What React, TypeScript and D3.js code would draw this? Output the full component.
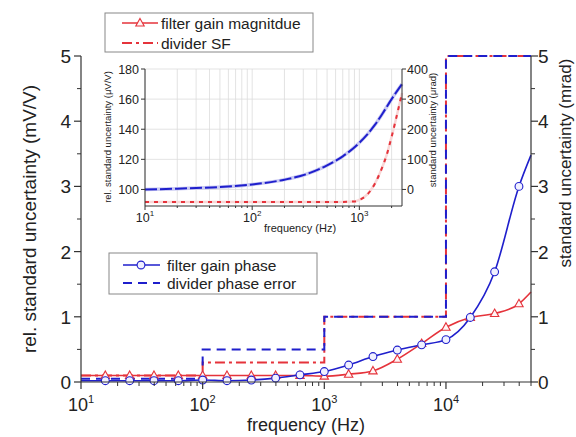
import React from 'react';
import * as d3 from 'd3';

// ---------- data ----------
const freqMain = [10, 15.85, 25.12, 39.81, 63.1, 100, 158.5, 251.2, 398.1, 631, 1000, 1585, 2512, 3981, 6310, 10000, 15849, 25119, 39811, 50000];
const gainMagnitude = [0.1, 0.1, 0.1, 0.1, 0.1, 0.1, 0.1, 0.1, 0.1, 0.1, 0.09, 0.12, 0.17, 0.35, 0.59, 0.84, 0.99, 1.05, 1.2, 1.38];
const gainPhase = [0.02, 0.02, 0.02, 0.02, 0.02, 0.03, 0.02, 0.03, 0.06, 0.11, 0.16, 0.26, 0.39, 0.49, 0.57, 0.65, 0.99, 1.69, 3.0, 3.48];
const stepFreq = [10, 100, 1000, 10000, 50000];
const dividerSF = [0.1, 0.3, 1, 5, 5];
const dividerPhase = [0.05, 0.5, 1, 5, 5];

const insetFreqBlue = [10, 20, 30, 50, 100, 200, 316, 500, 700, 1000, 1400, 1700, 2000, 2500];
const insetBlue = [100, 100.5, 101, 101.6, 103.3, 106.5, 110, 116, 122, 131, 143, 152, 160, 170];
const insetFreqRed = [10, 100, 500, 900, 1000, 1200, 1400, 1600, 1800, 2000, 2200, 2500];
const insetRed = [-42, -42, -42, -40, -35, -15, 20, 65, 115, 175, 235, 320];

const yTicks = [0, 1, 2, 3, 4, 5];
const xDecades = [1, 2, 3, 4];
const insetLeftTicks = [100, 120, 140, 160, 180];
const insetRightTicks = [0, 100, 200, 300, 400];
const insetDecades = [1, 2, 3];

const RED = '#e5333b';
const BLUE = '#1f1fcc';
const FONT = 'Liberation Sans, Arial, sans-serif';

export default function App() {
  // main scales
  const x = d3.scaleLog().domain([10, 50000]).range([81, 531]);
  const y = d3.scaleLinear().domain([0, 5]).range([382, 56]);
  const yR = d3.scaleLinear().domain([0, 5]).range([382, 56]);

  // inset scales
  const xi = d3.scaleLog().domain([10, 2500]).range([145, 402]);
  const yiL = d3.scaleLinear().domain([89, 180]).range([206, 69]);
  const yiR = d3.scaleLinear().domain([-55, 400]).range([206, 69]);

  const smooth = d3.line<[number, number]>().curve(d3.curveMonotoneX);
  const stepLine = d3.line<[number, number]>().curve(d3.curveStepAfter);

  const magPts = freqMain.map((f, i) => [x(f), y(gainMagnitude[i])] as [number, number]);
  const phPts = freqMain.map((f, i) => [x(f), yR(gainPhase[i])] as [number, number]);
  const sfPts = stepFreq.map((f, i) => [x(f), y(dividerSF[i])] as [number, number]);
  const dpPts = stepFreq.map((f, i) => [x(f), yR(dividerPhase[i])] as [number, number]);

  const insetBluePts = insetFreqBlue.map((f, i) => [xi(f), yiL(insetBlue[i])] as [number, number]);
  const insetRedPts = insetFreqRed.map((f, i) => [xi(f), yiR(insetRed[i])] as [number, number]);

  const isMinor = (t: number) => {
    const l = Math.log10(t);
    return Math.abs(l - Math.round(l)) > 1e-6;
  };
  const minorX = x.ticks().filter(isMinor);
  const minorXi = xi.ticks().filter(isMinor);
  const minorY = d3.range(0.5, 5, 1);

  const tri = (cx: number, cy: number, key: string | number) => (
    <path key={key} d={`M${cx},${cy - 4.5} L${cx + 4.2},${cy + 3} L${cx - 4.2},${cy + 3} Z`} fill="#fff5f5" stroke={RED} strokeWidth={1.1} />
  );
  const circ = (cx: number, cy: number, key: string | number) => (
    <circle key={key} cx={cx} cy={cy} r={3.9} fill="#f0f0ff" stroke={BLUE} strokeWidth={1.1} />
  );

  return (
    <svg width={576} height={437} style={{ position: 'absolute', left: 0, top: 0, background: '#fff' }} fontFamily={FONT}>
      <rect x={0} y={0} width={576} height={437} fill="#fff" />

      {/* ---------- inset ---------- */}
      <g>
        {xi.ticks().map((t, i) => (
          <line key={'ig' + i} x1={xi(t)} x2={xi(t)} y1={69} y2={206} stroke="#dcdcdc" strokeWidth={0.8} />
        ))}
        {insetLeftTicks.map((t) => (
          <line key={'ih' + t} x1={145} x2={402} y1={yiL(t)} y2={yiL(t)} stroke="#dcdcdc" strokeWidth={0.8} />
        ))}
        <path d={smooth(insetRedPts) || ''} fill="none" stroke="#f8d6d6" strokeWidth={2.5} />
        <path d={smooth(insetRedPts) || ''} fill="none" stroke={RED} strokeWidth={2} strokeDasharray="4,5" />
        <path d={smooth(insetBluePts) || ''} fill="none" stroke="#c9c9f2" strokeWidth={3.5} />
        <path d={smooth(insetBluePts) || ''} fill="none" stroke={BLUE} strokeWidth={2} strokeDasharray="12,3" />
        <line x1={145} x2={145} y1={69} y2={206} stroke="#333" strokeWidth={1} />
        <line x1={402} x2={402} y1={69} y2={206} stroke="#333" strokeWidth={1} />
        <line x1={145} x2={402} y1={206} y2={206} stroke="#333" strokeWidth={1} />
        {insetLeftTicks.map((t) => (
          <g key={'il' + t}>
            <line x1={141} x2={145} y1={yiL(t)} y2={yiL(t)} stroke="#333" />
            <text x={139} y={yiL(t) + 4.5} fontSize={12.5} textAnchor="end" fill="#222">{t}</text>
          </g>
        ))}
        {insetRightTicks.map((t) => (
          <g key={'ir' + t}>
            <line x1={402} x2={406} y1={yiR(t)} y2={yiR(t)} stroke="#333" />
            <text x={407} y={yiR(t) + 4.5} fontSize={12.5} textAnchor="start" fill="#222">{t}</text>
          </g>
        ))}
        {insetDecades.map((d) => (
          <g key={'id' + d}>
            <line x1={xi(10 ** d)} x2={xi(10 ** d)} y1={206} y2={210} stroke="#333" />
            <text x={xi(10 ** d)} y={222} fontSize={12.5} textAnchor="middle" fill="#222">
              10<tspan dy={-6} fontSize={8}>{d}</tspan>
            </text>
          </g>
        ))}
        {minorXi.map((t, i) => (
          <line key={'imx' + i} x1={xi(t)} x2={xi(t)} y1={206} y2={208} stroke="#333" />
        ))}
        <text x={300} y={232} fontSize={11} textAnchor="middle" fill="#222">frequency (Hz)</text>
        <text transform={`translate(111,137) rotate(-90)`} fontSize={9.5} textAnchor="middle" fill="#222">rel. standard uncertainty (μV/V)</text>
        <text transform={`translate(436,130) rotate(-90)`} fontSize={9.5} textAnchor="middle" fill="#222">standard uncertainty (μrad)</text>
      </g>

      {/* ---------- main series ---------- */}
      <path d={stepLine(sfPts) || ''} fill="none" stroke={RED} strokeWidth={2} strokeDasharray="10,4,3,4" />
      <path d={stepLine(dpPts) || ''} fill="none" stroke={BLUE} strokeWidth={2} strokeDasharray="9,6" />
      <path d={smooth(magPts) || ''} fill="none" stroke={RED} strokeWidth={1.6} />
      <path d={smooth(phPts) || ''} fill="none" stroke={BLUE} strokeWidth={1.6} />
      {magPts.slice(1, -1).map((p, i) => tri(p[0], p[1], 't' + i))}
      {phPts.slice(1, -1).map((p, i) => circ(p[0], p[1], 'c' + i))}

      {/* ---------- axes ---------- */}
      <line x1={81} x2={81} y1={56} y2={382} stroke="#333" strokeWidth={1.2} />
      <line x1={531} x2={531} y1={56} y2={382} stroke="#333" strokeWidth={1.2} />
      <line x1={81} x2={531} y1={382} y2={382} stroke="#333" strokeWidth={1.2} />
      {yTicks.map((t) => (
        <g key={'yl' + t}>
          <line x1={74} x2={81} y1={y(t)} y2={y(t)} stroke="#333" strokeWidth={1.2} />
          <text x={71} y={y(t) + 7} fontSize={19} textAnchor="end" fill="#222">{t}</text>
          <line x1={531} x2={538} y1={yR(t)} y2={yR(t)} stroke="#333" strokeWidth={1.2} />
          <text x={538} y={yR(t) + 7} fontSize={19} textAnchor="start" fill="#222">{t}</text>
        </g>
      ))}
      {minorY.map((t) => (
        <g key={'ym' + t}>
          <line x1={77} x2={81} y1={y(t)} y2={y(t)} stroke="#333" />
          <line x1={531} x2={535} y1={yR(t)} y2={yR(t)} stroke="#333" />
        </g>
      ))}
      {xDecades.map((d) => (
        <g key={'xd' + d}>
          <line x1={x(10 ** d)} x2={x(10 ** d)} y1={382} y2={389} stroke="#333" strokeWidth={1.2} />
          <text x={x(10 ** d)} y={411} fontSize={18} textAnchor="middle" fill="#222">
            10<tspan dy={-8} fontSize={11}>{d}</tspan>
          </text>
        </g>
      ))}
      {minorX.map((t, i) => (
        <line key={'mx' + i} x1={x(t)} x2={x(t)} y1={382} y2={386} stroke="#333" />
      ))}
      <text x={306} y={431} fontSize={18} textAnchor="middle" fill="#222">frequency (Hz)</text>
      <text transform={`translate(36,219) rotate(-90)`} fontSize={19} textAnchor="middle" fill="#222">rel. standard uncertainty (mV/V)</text>
      <text transform={`translate(571,163) rotate(-90)`} fontSize={17} textAnchor="middle" fill="#222">standard uncertainty (mrad)</text>

      {/* ---------- legends ---------- */}
      <rect x={105} y={13} width={208} height={39} fill="#fff" stroke="#888" strokeWidth={1} />
      <line x1={122} x2={158} y1={23} y2={23} stroke={RED} strokeWidth={1.6} />
      {tri(140, 23, 'lt')}
      <text x={161} y={28.5} fontSize={15.5} fill="#222">filter gain magnitdue</text>
      <line x1={122} x2={158} y1={43} y2={43} stroke={RED} strokeWidth={2} strokeDasharray="10,4,3,4" />
      <text x={161} y={48.5} fontSize={15.5} fill="#222">divider SF</text>

      <rect x={109} y={253} width={208} height={41} fill="#fff" stroke="#888" strokeWidth={1} />
      <line x1={123} x2={160} y1={265} y2={265} stroke={BLUE} strokeWidth={1.6} />
      {circ(141, 265, 'lc')}
      <text x={167} y={270.5} fontSize={15.5} fill="#222">filter gain phase</text>
      <line x1={123} x2={160} y1={283} y2={283} stroke={BLUE} strokeWidth={2} strokeDasharray="9,6" />
      <text x={167} y={288.5} fontSize={15.5} fill="#222">divider phase error</text>
    </svg>
  );
}
